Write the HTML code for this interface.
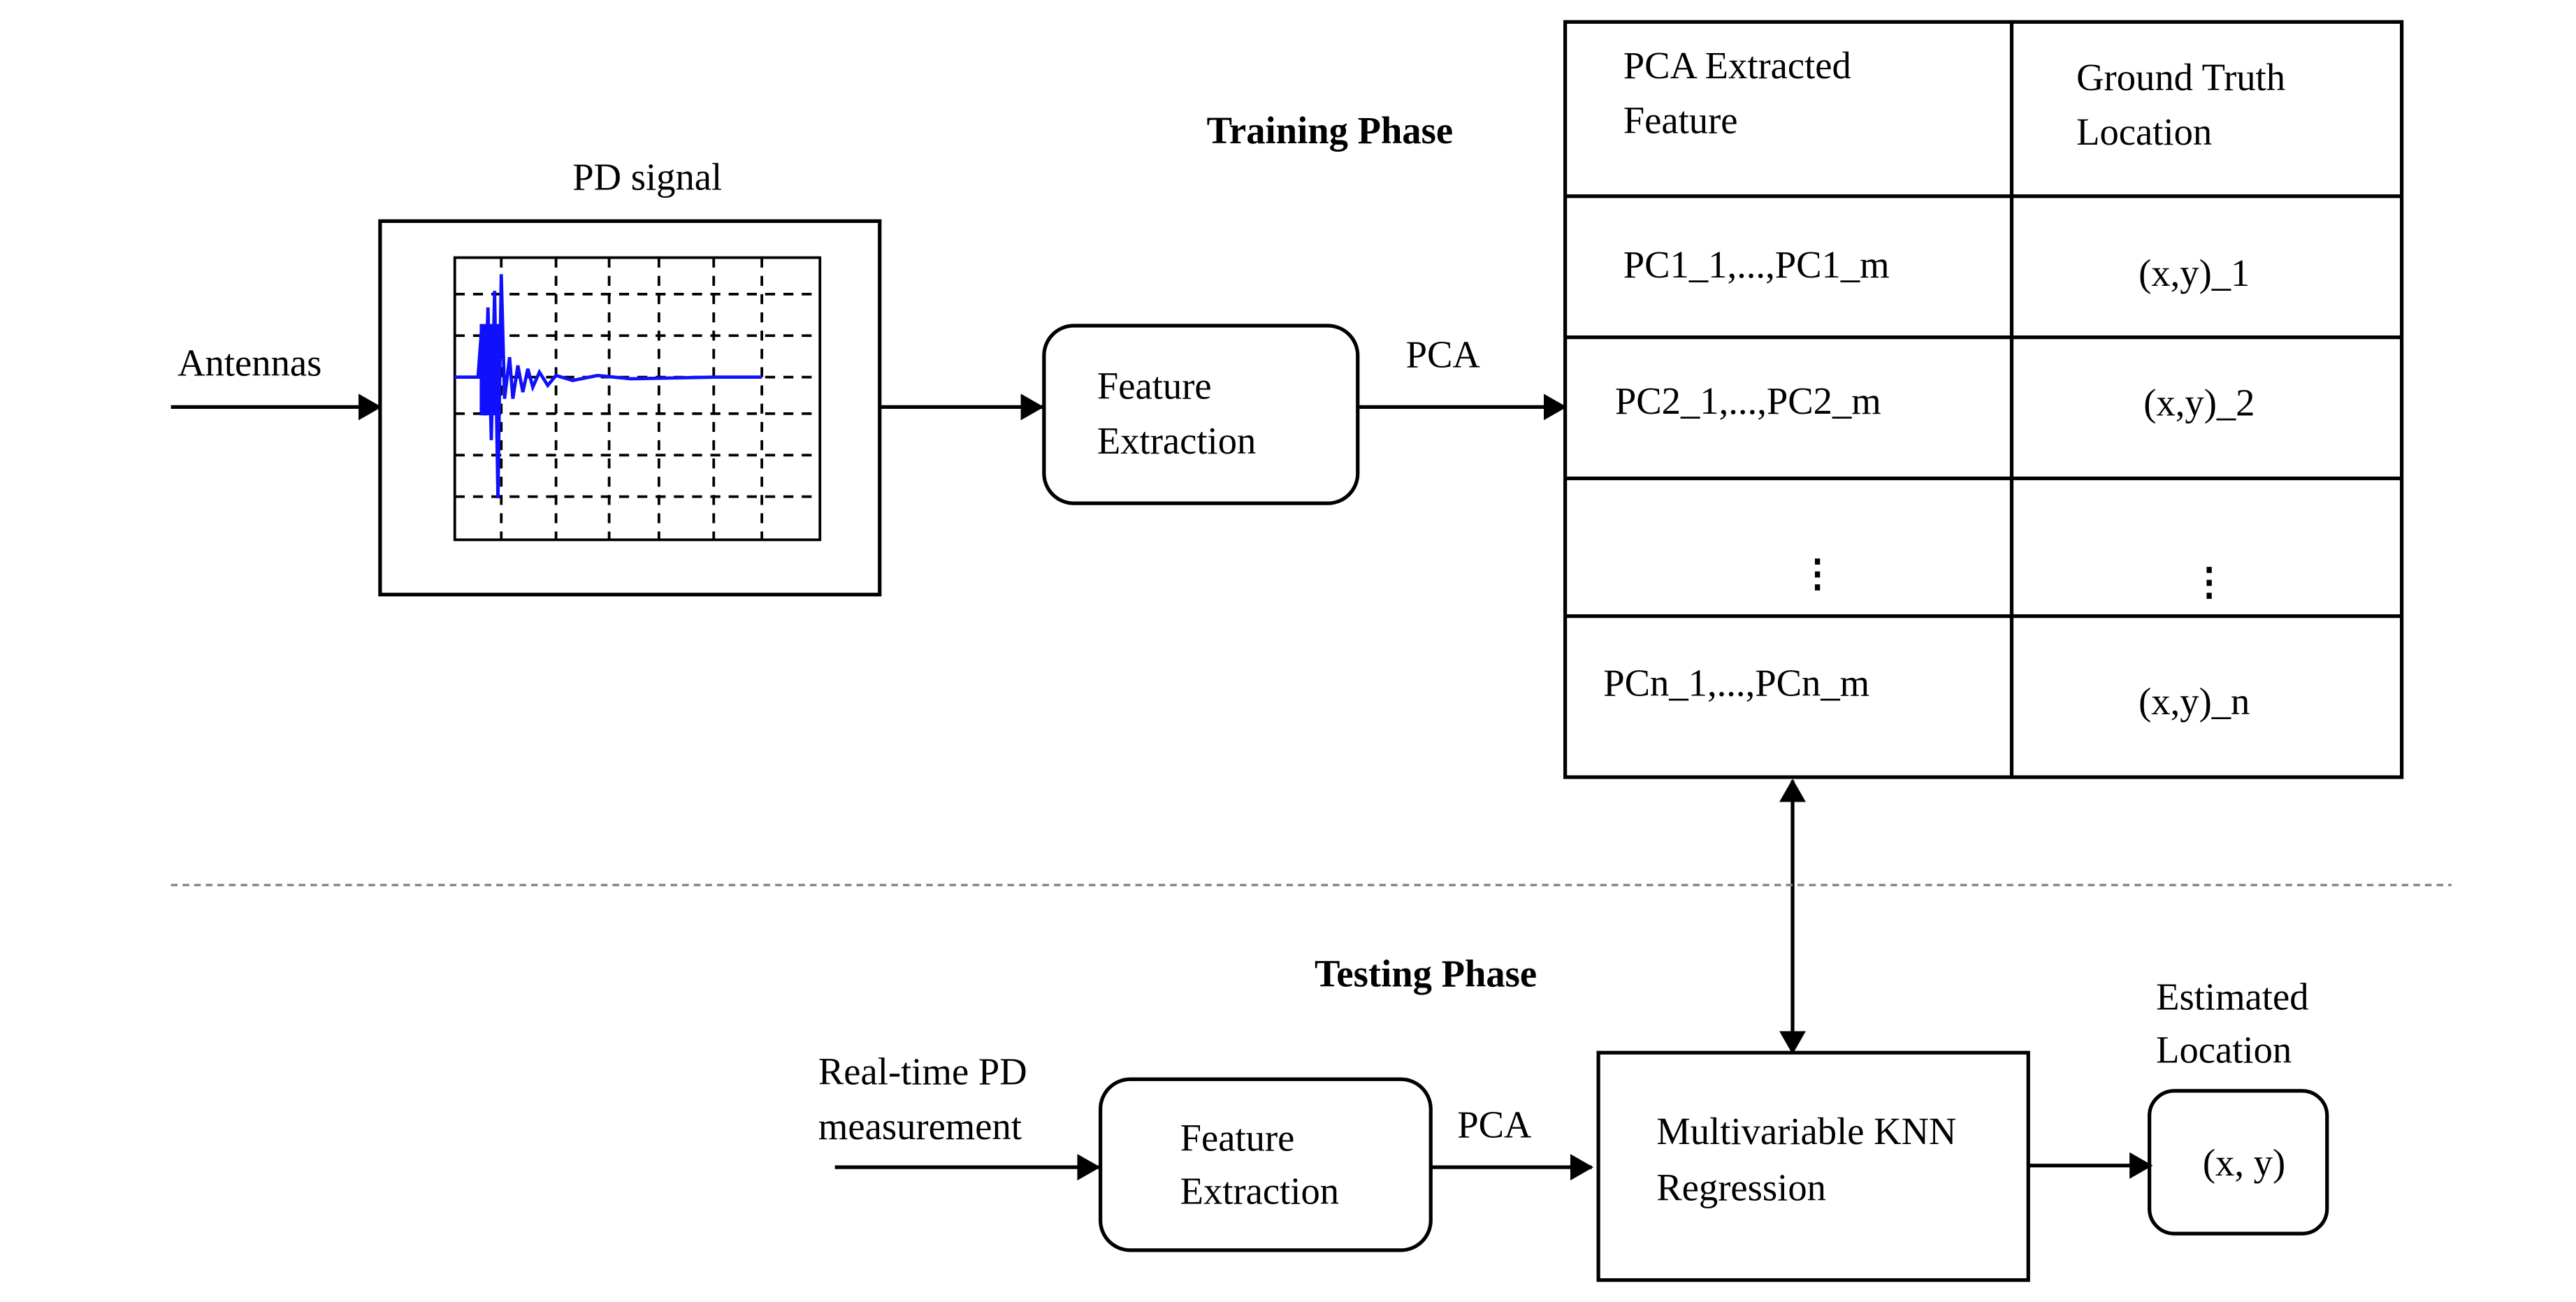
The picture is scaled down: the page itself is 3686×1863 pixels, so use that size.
<!DOCTYPE html>
<html><head><meta charset="utf-8"><style>html,body{margin:0;padding:0;background:#fff}svg{display:block}</style></head>
<body>
<svg width="3686" height="1863" viewBox="0 0 1552 784" xmlns="http://www.w3.org/2000/svg" font-family="Liberation Serif, serif" font-size="23" fill="#000">
<defs>
<marker id="ar" markerWidth="10" markerHeight="10" refX="9" refY="5" orient="auto" markerUnits="userSpaceOnUse" viewBox="0 0 10 10"><path d="M0,0 L10,5 L0,10 z" fill="#000"/></marker>
<marker id="ar2" markerWidth="14" markerHeight="16" refX="13" refY="8" orient="auto-start-reverse" markerUnits="userSpaceOnUse" viewBox="0 0 14 16"><path d="M0,0 L14,8 L0,16 z" fill="#000"/></marker>
</defs>
<rect width="1552" height="784" fill="#fff"/>
<g stroke="#000" stroke-width="2.2" fill="none">
<!-- PD signal box -->
<rect x="229" y="133" width="301" height="225"/>
<rect x="274" y="155" width="220" height="170" stroke-width="1.6"/>
<g stroke-dasharray="6,5" stroke-width="1.6">
<line x1="302" y1="155" x2="302" y2="325"/><line x1="335" y1="155" x2="335" y2="325"/><line x1="367" y1="155" x2="367" y2="325"/><line x1="397" y1="155" x2="397" y2="325"/><line x1="430" y1="155" x2="430" y2="325"/><line x1="459" y1="155" x2="459" y2="325"/>
<line x1="274" y1="177" x2="494" y2="177"/><line x1="274" y1="202" x2="494" y2="202"/><line x1="274" y1="227" x2="494" y2="227"/><line x1="274" y1="249" x2="494" y2="249"/><line x1="274" y1="274" x2="494" y2="274"/><line x1="274" y1="299" x2="494" y2="299"/>
</g>
<path d="M274,227 L288,227 L290,200 L292,250 L294,185 L296,265 L298,175 L300,300 L302,165 L304,240 L307,215 L309,240 L312,220 L315,236 L318,222 L321,233 L325,224 L330,232 L335,226 L345,229 L360,226 L380,228 L430,227 L459,227" stroke="#1010ff" stroke-width="2"/>
<rect x="289" y="195" width="12" height="55" fill="#1010ff" stroke="none"/>
<!-- arrows top -->
<line x1="103" y1="245" x2="229" y2="245" marker-end="url(#ar2)"/>
<line x1="530" y1="245" x2="628" y2="245" marker-end="url(#ar2)"/>
<rect x="629" y="196" width="189" height="107" rx="18"/>
<line x1="818" y1="245" x2="943" y2="245" marker-end="url(#ar2)"/>
<!-- table -->
<rect x="943" y="13" width="504" height="455"/>
<line x1="1212" y1="13" x2="1212" y2="468"/>
<line x1="943" y1="118" x2="1447" y2="118"/>
<line x1="943" y1="203" x2="1447" y2="203"/>
<line x1="943" y1="288" x2="1447" y2="288"/>
<line x1="943" y1="371" x2="1447" y2="371"/>
<!-- double arrow -->
<line x1="1080" y1="470" x2="1080" y2="634" marker-start="url(#ar2)" marker-end="url(#ar2)"/>
<!-- bottom -->
<line x1="503" y1="703" x2="662" y2="703" marker-end="url(#ar2)"/>
<rect x="663" y="650" width="199" height="103" rx="18"/>
<line x1="862" y1="703" x2="959" y2="703" marker-end="url(#ar2)"/>
<rect x="963" y="634" width="259" height="137"/>
<line x1="1222" y1="702" x2="1296" y2="702" marker-end="url(#ar2)"/>
<rect x="1295" y="657" width="107" height="86" rx="15"/>
</g>
<line x1="103" y1="533" x2="1477" y2="533" stroke="#888" stroke-width="1.5" stroke-dasharray="4,3"/>
<text x="390" y="114" text-anchor="middle">PD signal</text>
<text x="107" y="226">Antennas</text>
<text x="661" y="240">Feature</text>
<text x="661" y="273">Extraction</text>
<text x="847" y="221">PCA</text>
<text x="727" y="86" font-weight="bold">Training Phase</text>
<text x="978" y="47">PCA Extracted</text>
<text x="978" y="80">Feature</text>
<text x="1251" y="54">Ground Truth</text>
<text x="1251" y="87">Location</text>
<text x="978" y="167">PC1_1,...,PC1_m</text>
<text x="1322" y="172" text-anchor="middle">(x,y)_1</text>
<text x="973" y="249">PC2_1,...,PC2_m</text>
<text x="1325" y="250" text-anchor="middle">(x,y)_2</text>
<text x="1095" y="353" text-anchor="middle" font-weight="bold">⋮</text>
<text x="1331" y="358" text-anchor="middle" font-weight="bold">⋮</text>
<text x="966" y="419">PCn_1,...,PCn_m</text>
<text x="1322" y="430" text-anchor="middle">(x,y)_n</text>
<text x="792" y="594" font-weight="bold">Testing Phase</text>
<text x="493" y="653">Real-time PD</text>
<text x="493" y="686">measurement</text>
<text x="711" y="693">Feature</text>
<text x="711" y="725">Extraction</text>
<text x="878" y="685">PCA</text>
<text x="998" y="689">Multivariable KNN</text>
<text x="998" y="723">Regression</text>
<text x="1299" y="608">Estimated</text>
<text x="1299" y="640">Location</text>
<text x="1352" y="708" text-anchor="middle">(x, y)</text>
</svg>
</body></html>
